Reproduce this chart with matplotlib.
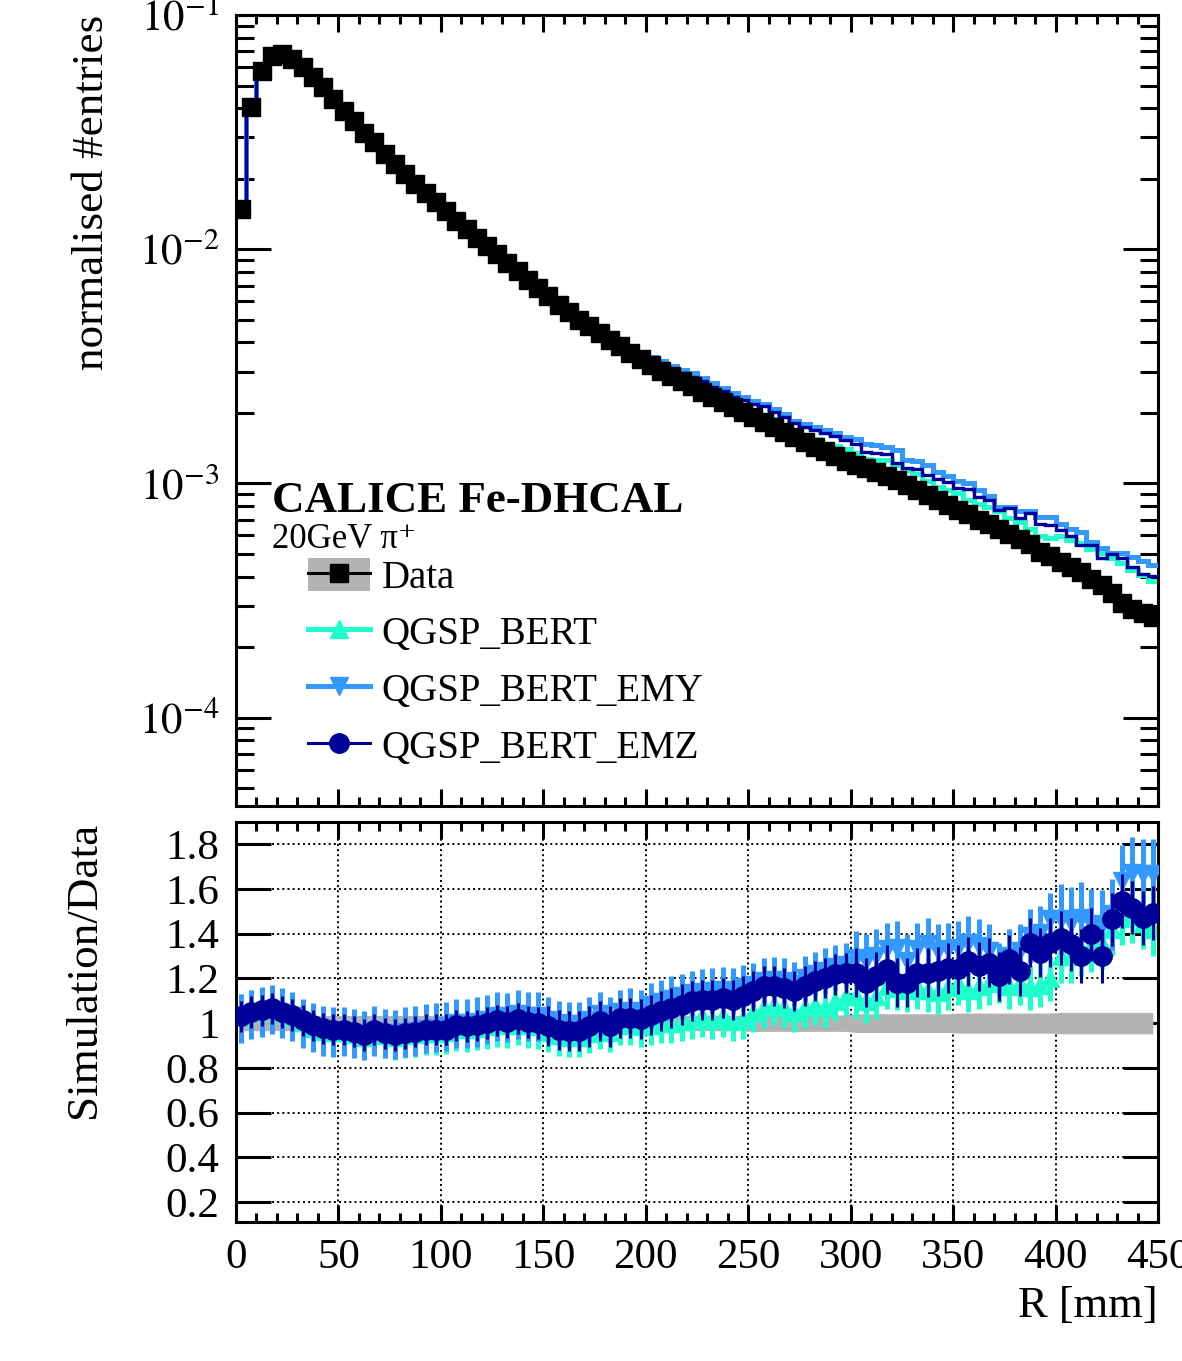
import numpy as np
import matplotlib
matplotlib.use('Agg')
import matplotlib.pyplot as plt
from matplotlib.lines import Line2D
from matplotlib.patches import Patch
from matplotlib.ticker import MultipleLocator, FixedLocator, FuncFormatter, LogLocator, NullFormatter

plt.rcParams['font.family'] = ['Liberation Serif', 'DejaVu Serif']
plt.rcParams['mathtext.fontset'] = 'stix'

# 5 mm bins in R
bin_width = 5
n_bins = 90

# data, normalised entries per bin
data = [0.0148, 0.0403, 0.0578, 0.0670, 0.0681, 0.0649, 0.0597, 0.0541, 0.0491, 0.0438,
        0.0390, 0.0353, 0.0315, 0.0286, 0.0255, 0.0231, 0.0209, 0.0190, 0.01746, 0.01584,
        0.01459, 0.01322, 0.01217, 0.01121, 0.01032, 0.00952, 0.00877, 0.00807, 0.0074, 0.0068,
        0.0063, 0.0058, 0.0054, 0.0050, 0.0047, 0.0044, 0.0041, 0.00385, 0.0036, 0.0034,
        0.00320, 0.00303, 0.00287, 0.00273, 0.00260, 0.00247, 0.00234, 0.00222, 0.00212, 0.00202,
        0.00192, 0.00183, 0.00174, 0.00166, 0.00158, 0.00150, 0.00143, 0.00137, 0.00131, 0.00125,
        0.00120, 0.00116, 0.00112, 0.00108, 0.00104, 0.00099, 0.00094, 0.00089, 0.00085, 0.00081,
        0.00077, 0.00074, 0.00070, 0.00067, 0.00064, 0.00061, 0.00058, 0.00055, 0.00051, 0.00049,
        0.00046, 0.00044, 0.00042, 0.00039, 0.00037, 0.00034, 0.00031, 0.00029, 0.00028, 0.00027]

# relative systematic uncertainty of data (grey band)
data_sys = [0.034] * 50 + [0.037] * 10 + [0.042] * 10 + [0.045] * 10 + [0.048] * 10

# simulation / data
ratio_bert = [1.03, 1.05, 1.055, 1.06, 1.045, 1.03, 1.005, 0.98, 0.965, 0.96,
              0.96, 0.952, 0.94, 0.96, 0.945, 0.937, 0.945, 0.95, 0.958, 0.958,
              0.96, 0.975, 0.972, 0.978, 0.985, 0.995, 0.99, 1.0, 0.99, 0.985,
              0.96, 0.945, 0.94, 0.94, 0.955, 0.975, 0.96, 0.99, 0.99, 0.985,
              0.99, 1.0, 1.0, 1.01, 1.02, 1.03, 1.02, 1.03, 1.01, 1.02,
              1.05, 1.07, 1.08, 1.07, 1.05, 1.07, 1.08, 1.07, 1.10, 1.12,
              1.12, 1.10, 1.12, 1.165, 1.158, 1.15, 1.165, 1.15, 1.14, 1.16,
              1.18, 1.15, 1.165, 1.18, 1.188, 1.165, 1.18, 1.16, 1.17, 1.20,
              1.30, 1.30, 1.33, 1.35, 1.36, 1.42, 1.47, 1.48, 1.45, 1.42]

ratio_emy = [1.02, 1.04, 1.05, 1.06, 1.045, 1.03, 1.0, 0.98, 0.965, 0.96,
             0.962, 0.955, 0.945, 0.965, 0.955, 0.95, 0.96, 0.965, 0.975, 0.98,
             0.985, 1.0, 1.0, 1.005, 1.015, 1.03, 1.025, 1.04, 1.03, 1.03,
             1.015, 1.0, 0.995, 0.995, 1.015, 1.04, 1.015, 1.05, 1.055, 1.05,
             1.08, 1.095, 1.11, 1.12, 1.135, 1.14, 1.145, 1.15, 1.145, 1.16,
             1.17, 1.19, 1.195, 1.19, 1.175, 1.2, 1.22, 1.235, 1.25, 1.26,
             1.292, 1.277, 1.30, 1.33, 1.337, 1.277, 1.33, 1.352, 1.322, 1.33,
             1.337, 1.36, 1.344, 1.322, 1.24, 1.30, 1.322, 1.389, 1.404, 1.464,
             1.464, 1.45, 1.472, 1.442, 1.434, 1.487, 1.636, 1.673, 1.666, 1.666]

ratio_emz = [1.03, 1.05, 1.058, 1.067, 1.05, 1.036, 1.013, 0.99, 0.976, 0.97,
             0.97, 0.962, 0.947, 0.97, 0.955, 0.947, 0.955, 0.962, 0.97, 0.97,
             0.97, 0.99, 0.985, 0.99, 1.0, 1.013, 1.005, 1.02, 1.005, 1.0,
             0.986, 0.97, 0.965, 0.965, 0.985, 1.008, 0.985, 1.023, 1.023, 1.02,
             1.038, 1.053, 1.068, 1.083, 1.098, 1.105, 1.105, 1.113, 1.105, 1.12,
             1.143, 1.165, 1.165, 1.158, 1.143, 1.165, 1.187, 1.203, 1.218, 1.225,
             1.225, 1.18, 1.21, 1.24, 1.18, 1.18, 1.225, 1.225, 1.232, 1.247,
             1.24, 1.277, 1.255, 1.27, 1.21, 1.285, 1.232, 1.36, 1.315, 1.36,
             1.38, 1.352, 1.30, 1.397, 1.30, 1.464, 1.546, 1.517, 1.47, 1.494]

err_bert = [0.10] * 30 + [0.09] * 30 + [0.10] * 20 + [0.12] * 10
err_emy = [0.11] * 30 + [0.10] * 30 + [0.12] * 20 + [0.16] * 10
err_emz = [0.07] * 30 + [0.09] * 30 + [0.11] * 20 + [0.12] * 10

c_data = 'black'
c_band = '#b3b3b3'
c_bert = '#1effcc'
c_emy = '#3399ff'
c_emz = '#000099'

edges = np.arange(0, bin_width * n_bins + 1, bin_width)
centers = edges[:-1] + bin_width / 2.0
data = np.array(data)
data_sys = np.array(data_sys)

fig = plt.figure(figsize=(11.82, 13.61), dpi=100)
ax1 = fig.add_axes([236 / 1182, 1 - 806 / 1361, 922 / 1182, 791 / 1361])
ax2 = fig.add_axes([236 / 1182, 1 - 1222 / 1361, 922 / 1182, 400 / 1361])

# upper panel
ax1.stairs(data * (1 + data_sys), edges, baseline=data * (1 - data_sys), fill=True, color=c_band, zorder=1)
ax1.stairs(data * np.array(ratio_bert), edges, baseline=None, color=c_bert, lw=3.6, zorder=2)
ax1.stairs(data * np.array(ratio_emy), edges, baseline=None, color=c_emy, lw=3.6, zorder=3)
ax1.stairs(data * np.array(ratio_emz), edges, baseline=None, color=c_emz, lw=2.4, zorder=4)
ax1.plot(centers, data, 's', color=c_data, ms=13, zorder=5)

ax1.set_yscale('log')
ax1.set_xlim(0, 450)
ax1.set_ylim(4.2e-5, 0.1)
ax1.yaxis.set_major_locator(FixedLocator([1e-4, 1e-3, 1e-2, 1e-1]))
ax1.yaxis.set_major_formatter(FuncFormatter(lambda v, p: '$10^{%d}$' % round(np.log10(v))))
ax1.yaxis.set_minor_locator(LogLocator(base=10, subs=np.arange(2, 10)))
ax1.yaxis.set_minor_formatter(NullFormatter())
ax1.xaxis.set_major_locator(MultipleLocator(50))
ax1.xaxis.set_minor_locator(MultipleLocator(10))
ax1.tick_params(axis='x', labelbottom=False)
ax1.set_ylabel('normalised #entries', fontsize=32.5, loc='top')
ax1.yaxis.set_label_coords(-0.135, 1.0)

ax1.text(0.039, 0.372, 'CALICE Fe-DHCAL', transform=ax1.transAxes, fontsize=32.4,
         fontweight='bold', va='baseline', ha='left')
ax1.text(0.039, 0.326, '20GeV π⁺', transform=ax1.transAxes, fontsize=25,
         va='baseline', ha='left')

h_data = (Patch(facecolor=c_band, edgecolor='none'),
          Line2D([], [], color=c_data, lw=2.2, marker='s', ms=13))
h_bert = Line2D([], [], color=c_bert, lw=3.6, marker='^', ms=13)
h_emy = Line2D([], [], color=c_emy, lw=3.6, marker='v', ms=13)
h_emz = Line2D([], [], color=c_emz, lw=2.2, marker='o', ms=14)
leg = ax1.legend([h_data, h_bert, h_emy, h_emz],
                 ['Data', 'QGSP_BERT', 'QGSP_BERT_EMY', 'QGSP_BERT_EMZ'],
                 loc='upper left', bbox_to_anchor=(0.078, 0.314), frameon=False,
                 fontsize=28, handlelength=1.6, handleheight=0.95, handletextpad=0.3,
                 labelspacing=0.45, borderpad=0, borderaxespad=0)
leg.set_zorder(10)

# lower panel
ax2.fill_between(centers, 1 - data_sys, 1 + data_sys, color=c_band, lw=0, zorder=1)
ax2.errorbar(centers, ratio_bert, yerr=err_bert, fmt='^', color=c_bert, ms=13,
             elinewidth=3.6, capsize=0, zorder=2)
ax2.errorbar(centers, ratio_emy, yerr=err_emy, fmt='v', color=c_emy, ms=13,
             elinewidth=3.6, capsize=0, zorder=3)
ax2.errorbar(centers, ratio_emz, yerr=err_emz, fmt='o', color=c_emz, ms=14,
             elinewidth=2.2, capsize=0, zorder=4)

ax2.set_xlim(0, 450)
ax2.set_ylim(0.11, 1.9)
ax2.yaxis.set_major_locator(FixedLocator([0.2, 0.4, 0.6, 0.8, 1.0, 1.2, 1.4, 1.6, 1.8]))
ax2.yaxis.set_major_formatter(FuncFormatter(lambda v, p: '%g' % v))
ax2.xaxis.set_major_locator(MultipleLocator(50))
ax2.xaxis.set_minor_locator(MultipleLocator(10))
ax2.grid(True, which='major', ls=':', color='black', lw=1.4)
ax2.set_axisbelow(True)
ax2.set_ylabel('Simulation/Data', fontsize=32.5, loc='top')
ax2.yaxis.set_label_coords(-0.143, 1.0)
ax2.set_xlabel('R [mm]', fontsize=32, loc='right')
ax2.xaxis.set_label_coords(1.0, -0.16)

for ax in (ax1, ax2):
    for s in ax.spines.values():
        s.set_linewidth(2.2)
    ax.tick_params(which='both', direction='in', top=True, right=True, width=2.2, labelsize=31)
    ax.tick_params(axis='x', which='major', length=12, pad=12)
    ax.tick_params(axis='x', which='minor', length=6.5)
    ax.tick_params(axis='y', which='major', length=25, pad=12)
    ax.tick_params(axis='y', which='minor', length=13)

plt.savefig('out.png', dpi=100)
plt.close()
